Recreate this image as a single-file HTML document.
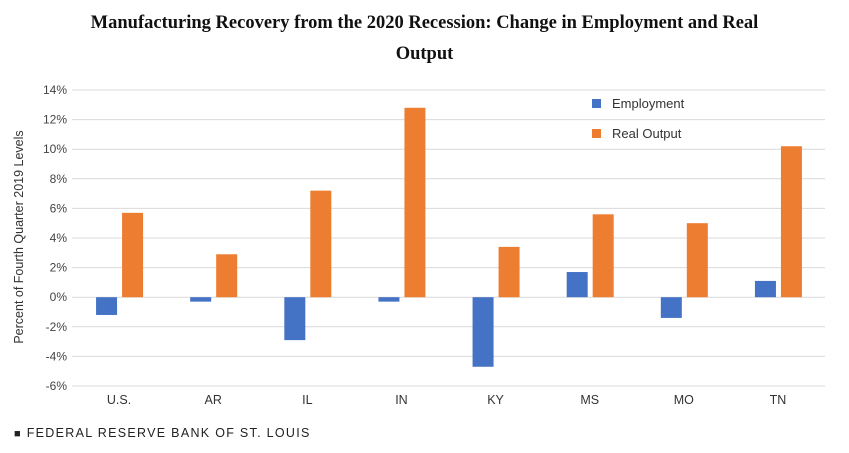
<!DOCTYPE html>
<html><head><meta charset="utf-8"><style>
body{margin:0;background:#fff;width:849px;height:453px;overflow:hidden;font-family:"Liberation Sans",sans-serif}
#title{position:absolute;left:0;top:8px;width:849px;text-align:center;font-family:"Liberation Serif",serif;font-weight:bold;font-size:18.5px;line-height:31px;color:#111}
#footer{position:absolute;left:14px;top:426px;font-size:12.5px;letter-spacing:1.3px;color:#222}
</style></head><body>
<div id="title">Manufacturing Recovery from the 2020 Recession: Change in Employment and Real<br>Output</div>
<svg id="chart" width="849" height="453" style="position:absolute;left:0;top:0"></svg>
<div id="footer"><span style="font-size:11px">■</span> FEDERAL RESERVE BANK OF ST. LOUIS</div>
<script>
const categories=["U.S.","AR","IL","IN","KY","MS","MO","TN"];
const employment=[-1.2,-0.3,-2.9,-0.3,-4.7,1.7,-1.4,1.1];
const realOutput=[5.7,2.9,7.2,12.8,3.4,5.6,5.0,10.2];
const yTicks=[-6,-4,-2,0,2,4,6,8,10,12,14];
const svg=document.getElementById('chart');
const NS='http://www.w3.org/2000/svg';
const pLeft=72,pRight=825,pTop=90,pBottom=386,yMin=-6,yMax=14;
const y=v=>pBottom-(v-yMin)/(yMax-yMin)*(pBottom-pTop);
const band=(pRight-pLeft)/categories.length;
const xc=i=>pLeft+band*(i+0.5);
function mk(t,a){const e=document.createElementNS(NS,t);for(const k in a)e.setAttribute(k,a[k]);svg.appendChild(e);return e;}
yTicks.forEach(t=>{
 const g=mk('line',{x1:pLeft,x2:pRight,y1:y(t),y2:y(t),stroke:'#d9d9d9','stroke-width':1});
 
 
 const l=mk('text',{x:67,y:y(t)+4,'text-anchor':'end','font-size':'12','fill':'#444'});
 l.textContent=t+'%';
 
 
});
const bw=21;
categories.forEach((c,i)=>{
 const e=employment[i],o=realOutput[i];
 const b1=mk('rect',{x:xc(i)-bw-2,y:Math.min(y(e),y(0)),width:bw,height:Math.abs(y(e)-y(0)),fill:'#4472c4'});
 
 
 const b2=mk('rect',{x:xc(i)+3,y:Math.min(y(o),y(0)),width:bw,height:Math.abs(y(o)-y(0)),fill:'#ed7d31'});
 
 
 const t=mk('text',{x:xc(i),y:404,'text-anchor':'middle','font-size':'12.5','fill':'#333'});
 t.textContent=c;
 
 
});
const yt=mk('text',{x:0,y:0,transform:'translate(23,237) rotate(-90)','text-anchor':'middle','font-size':'12.5','fill':'#333'});
yt.textContent='Percent of Fourth Quarter 2019 Levels';


[['Employment','#4472c4',104],['Real Output','#ed7d31',134]].forEach(([n,c,yy])=>{
 const s=mk('rect',{x:592,y:yy-5,width:9,height:9,fill:c});
 
 
 const t=mk('text',{x:612,y:yy+4,'font-size':'13','fill':'#333'});
 t.textContent=n;
 
 
});
</script>
</body></html>
